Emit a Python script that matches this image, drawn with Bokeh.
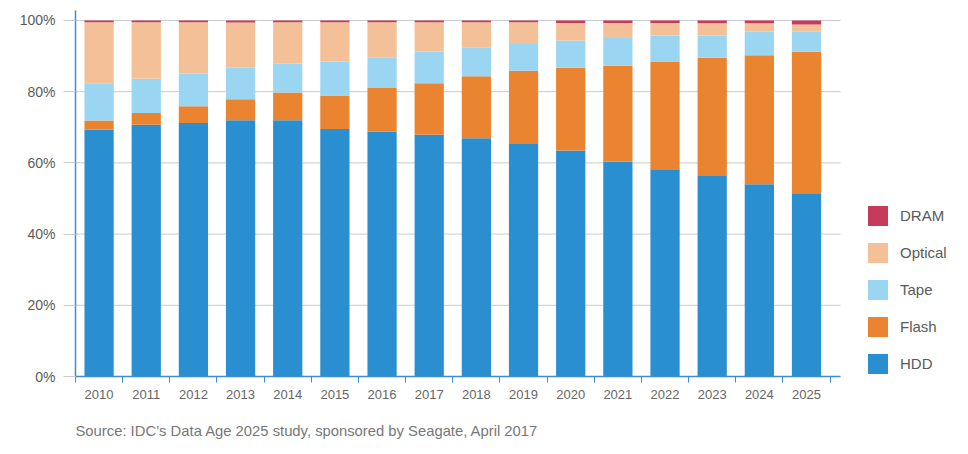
from bokeh.plotting import figure
from bokeh.models import Range1d, FixedTicker, Legend, LegendItem, Title, PrintfTickFormatter, ColumnDataSource
from bokeh.embed import file_html
from bokeh.resources import INLINE

years = ["2010", "2011", "2012", "2013", "2014", "2015", "2016", "2017",
         "2018", "2019", "2020", "2021", "2022", "2023", "2024", "2025"]
hdd     = [69.3, 70.7, 71.2, 72.0, 72.0, 69.5, 68.8, 67.9, 66.9, 65.5, 63.5, 60.3, 58.2, 56.3, 54.0, 51.5]
flash   = [2.6, 3.3, 4.7, 5.9, 7.8, 9.4, 12.2, 14.5, 17.4, 20.4, 23.2, 27.0, 30.3, 33.2, 36.2, 39.7]
tape    = [10.5, 9.6, 9.2, 8.8, 8.1, 9.6, 8.7, 8.8, 8.2, 7.5, 7.7, 7.8, 7.3, 6.3, 6.6, 5.6]
optical = [17.1, 15.9, 14.4, 12.7, 11.6, 11.0, 9.8, 8.3, 7.0, 6.1, 4.9, 4.2, 3.5, 3.4, 2.4, 2.1]
dram    = [0.5, 0.5, 0.5, 0.6, 0.5, 0.5, 0.5, 0.5, 0.5, 0.5, 0.7, 0.7, 0.7, 0.8, 0.8, 1.1]
series = ["HDD", "Flash", "Tape", "Optical", "DRAM"]
colors = ["#298fd0", "#ea8431", "#9ad5f2", "#f3c097", "#c73b5a"]
y_ticks = [0, 20, 40, 60, 80, 100]
source_note = "Source: IDC\u2019s Data Age 2025 study, sponsored by Seagate, April 2017"

FONT = "Liberation Sans"
AXIS_BLUE = "#3b8ed6"
GRID = "#cbcbcb"
TEXT = "#5a5a5a"

X_START, X_AXIS_END, X_FRAME_END = -0.5, 15.72, 18.265

xs = list(range(len(years)))
src = ColumnDataSource(dict(x=xs, HDD=hdd, Flash=flash, Tape=tape, Optical=optical, DRAM=dram))

p = figure(frame_width=885, frame_height=366, output_backend="svg", toolbar_location=None,
           x_range=Range1d(X_START, X_FRAME_END), y_range=Range1d(0, 102.8),
           min_border_left=75, min_border_right=3, min_border_top=10, min_border_bottom=66)
p.outline_line_color = None
p.background_fill_color = "white"

# horizontal grid lines, limited to the axis extent
p.segment(x0=[X_START] * len(y_ticks), x1=[X_AXIS_END] * len(y_ticks), y0=y_ticks, y1=y_ticks,
          line_color=GRID, line_width=1, level="underlay")

rs = p.vbar_stack(series, x="x", width=0.62, color=colors, line_color=None, source=src)

# x axis
xa = p.xaxis[0]
xa.bounds = (X_START, X_AXIS_END)
xa.ticker = FixedTicker(ticks=xs, minor_ticks=[i - 0.5 for i in range(len(years) + 1)])
xa.major_label_overrides = {i: y for i, y in zip(xs, years)}
xa.major_tick_line_color = None
xa.major_tick_out = 0
xa.major_tick_in = 0
xa.minor_tick_in = 0
xa.minor_tick_out = 6
xa.minor_tick_line_color = AXIS_BLUE
xa.axis_line_color = AXIS_BLUE
xa.axis_line_width = 1.5
xa.major_label_standoff = 7
xa.major_label_text_font = FONT
xa.major_label_text_font_size = "13px"
xa.major_label_text_color = "#666666"

# y axis
ya = p.yaxis[0]
ya.ticker = FixedTicker(ticks=y_ticks)
ya.formatter = PrintfTickFormatter(format="%d%%")
ya.axis_line_color = AXIS_BLUE
ya.axis_line_width = 1.5
ya.major_tick_in = 0
ya.major_tick_out = 12
ya.major_tick_line_color = GRID
ya.minor_tick_line_color = None
ya.major_label_standoff = 8
ya.major_label_text_font = FONT
ya.major_label_text_font_size = "14px"
ya.major_label_text_color = TEXT

p.xgrid.grid_line_color = None
p.ygrid.grid_line_color = None

items = [LegendItem(label=name, renderers=[r]) for name, r in zip(series, rs)][::-1]
legend = Legend(items=items, location=(790, 0), orientation="vertical",
                glyph_width=25, glyph_height=25, spacing=12, padding=0, margin=0,
                label_standoff=10, label_text_font=FONT, label_text_font_size="15px",
                label_text_color=TEXT, border_line_color=None, background_fill_alpha=0)
p.add_layout(legend)

title = Title(text=source_note, align="left", text_font=FONT, text_font_size="14.8px",
              text_font_style="normal", text_color="#777777", offset=0, standoff=39)
p.add_layout(title, "below")

open("out.html", "w").write(file_html(p, INLINE))
